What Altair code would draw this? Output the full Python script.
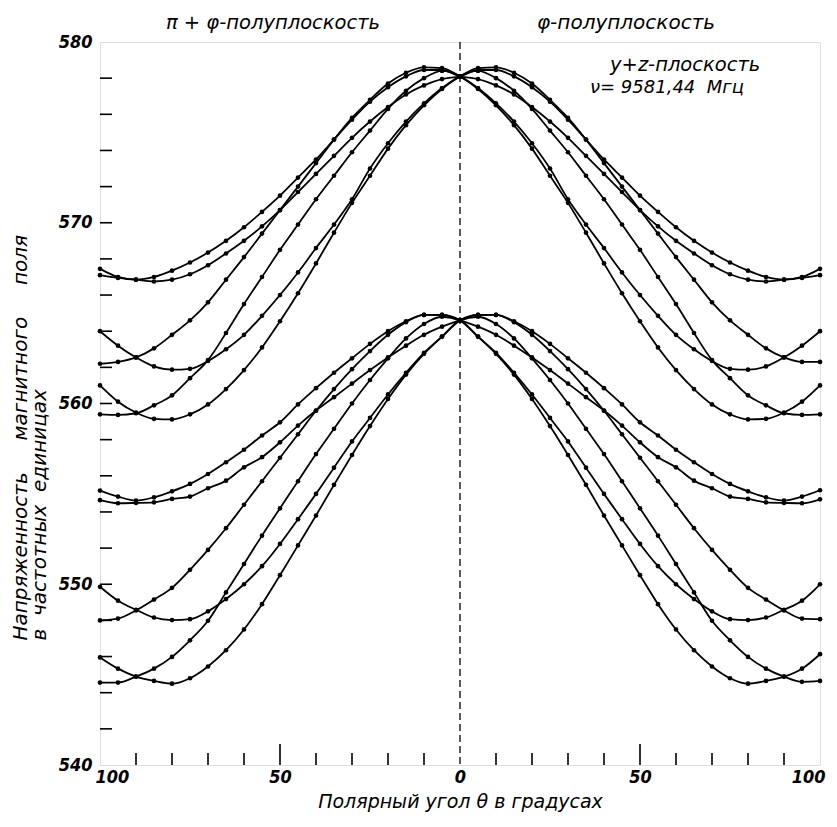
import altair as alt
import pandas as pd

# Polar angle (deg): negative side = "π+φ" half-plane, positive side = "φ" half-plane
theta = list(range(-100, 105, 5))

# Upper family (six curves)
U1 = [567.45, 567.0, 566.85, 567.0, 567.35, 567.8, 568.35, 569.0, 569.75, 570.6, 571.5, 572.5, 573.5, 574.6, 575.7, 576.7, 577.5, 578.1, 578.45, 578.45, 578.1,
      577.95, 577.6, 577.1, 576.4, 575.6, 574.7, 573.7, 572.7, 571.7, 570.7, 569.8, 569.0, 568.3, 567.65, 567.15, 566.85, 566.75, 566.85, 566.95, 567.1]
U2 = [567.1, 566.95, 566.85, 566.75, 566.85, 567.15, 567.65, 568.3, 569.0, 569.8, 570.7, 571.7, 572.7, 573.7, 574.7, 575.6, 576.4, 577.1, 577.6, 577.95, 578.1,
      578.45, 578.45, 578.1, 577.5, 576.7, 575.7, 574.6, 573.5, 572.5, 571.5, 570.6, 569.75, 569.0, 568.35, 567.8, 567.35, 567.0, 566.85, 567.0, 567.45]
U3 = [564.0, 563.2, 562.55, 562.05, 561.87, 561.92, 562.35, 563.0, 563.8, 564.85, 566.0, 567.25, 568.6, 569.9, 571.3, 573.0, 574.4, 575.6, 576.6, 577.45, 578.1,
      578.55, 578.6, 578.3, 577.7, 576.8, 575.8, 574.6, 573.3, 572.0, 570.7, 569.4, 568.1, 566.85, 565.6, 564.6, 563.8, 563.05, 562.55, 562.3, 562.3]
U4 = [562.2, 562.3, 562.55, 563.05, 563.8, 564.6, 565.6, 566.85, 568.1, 569.4, 570.7, 572.0, 573.3, 574.6, 575.8, 576.8, 577.7, 578.3, 578.6, 578.55, 578.1,
      577.45, 576.6, 575.6, 574.4, 573.0, 571.3, 569.9, 568.6, 567.25, 566.0, 564.85, 563.8, 563.0, 562.35, 561.92, 561.87, 562.05, 562.55, 563.2, 564.0]
U5 = [561.0, 560.1, 559.5, 559.15, 559.12, 559.4, 559.95, 560.8, 561.85, 563.1, 564.55, 566.1, 567.75, 569.45, 571.1, 572.6, 574.1, 575.4, 576.5, 577.4, 578.1,
      578.4, 578.0, 577.3, 576.3, 575.1, 573.9, 572.6, 571.3, 569.9, 568.5, 567.0, 565.5, 563.9, 562.4, 561.4, 560.45, 559.9, 559.46, 559.37, 559.4]
U6 = [559.4, 559.37, 559.46, 559.9, 560.45, 561.4, 562.4, 563.9, 565.5, 567.0, 568.5, 569.9, 571.3, 572.6, 573.9, 575.1, 576.3, 577.3, 578.0, 578.4, 578.1,
      577.4, 576.5, 575.4, 574.1, 572.6, 571.1, 569.45, 567.75, 566.1, 564.55, 563.1, 561.85, 560.8, 559.95, 559.4, 559.12, 559.15, 559.5, 560.1, 561.0]

# Lower family (six curves)
L1 = [555.18, 554.85, 554.63, 554.81, 555.14, 555.55, 556.1, 556.75, 557.44, 558.23, 558.96, 559.95, 560.85, 561.7, 562.5, 563.3, 564.0, 564.55, 564.9, 564.9, 564.6,
      564.25, 563.8, 563.2, 562.55, 561.85, 561.1, 560.35, 559.61, 558.78, 557.85, 557.03, 556.47, 555.73, 555.31, 554.85, 554.72, 554.53, 554.5, 554.48, 554.7]
L2 = [554.65, 554.48, 554.5, 554.53, 554.72, 554.85, 555.31, 555.73, 556.47, 557.03, 557.85, 558.78, 559.61, 560.35, 561.1, 561.85, 562.55, 563.2, 563.8, 564.25, 564.6,
      564.9, 564.9, 564.55, 564.0, 563.3, 562.5, 561.7, 560.85, 559.95, 558.96, 558.23, 557.44, 556.75, 556.1, 555.55, 555.14, 554.81, 554.63, 554.85, 555.2]
L3 = [549.86, 549.09, 548.59, 548.16, 548.02, 548.07, 548.5, 549.18, 550.0, 551.0, 552.23, 553.6, 555.0, 556.45, 557.9, 559.2, 560.5, 561.7, 562.8, 563.7, 564.6,
      564.9, 564.9, 564.5, 563.8, 562.9, 561.9, 560.8, 559.6, 558.3, 557.0, 555.7, 554.4, 553.1, 551.9, 550.8, 549.8, 549.15, 548.55, 548.1, 548.07]
L4 = [548.0, 548.1, 548.55, 549.15, 549.8, 550.8, 551.9, 553.1, 554.4, 555.7, 557.0, 558.3, 559.6, 560.8, 561.9, 562.9, 563.8, 564.5, 564.9, 564.9, 564.6,
      563.7, 562.8, 561.7, 560.5, 559.2, 557.9, 556.45, 555.0, 553.6, 552.23, 551.0, 550.0, 549.18, 548.5, 548.07, 548.02, 548.16, 548.59, 549.09, 550.0]
L5 = [545.95, 545.33, 544.89, 544.65, 544.5, 544.8, 545.45, 546.35, 547.5, 548.9, 550.5, 552.15, 553.8, 555.5, 557.15, 558.75, 560.25, 561.6, 562.75, 563.7, 564.6,
      564.8, 564.4, 563.6, 562.5, 561.3, 560.0, 558.6, 557.2, 555.7, 554.2, 552.69, 551.12, 549.55, 547.98, 546.9, 545.98, 545.33, 544.89, 544.6, 544.65]
L6 = [544.56, 544.56, 544.89, 545.33, 545.98, 546.9, 547.98, 549.55, 551.12, 552.69, 554.2, 555.7, 557.2, 558.6, 560.0, 561.3, 562.5, 563.6, 564.4, 564.8, 564.6,
      563.7, 562.75, 561.6, 560.25, 558.75, 557.15, 555.5, 553.8, 552.15, 550.5, 548.9, 547.5, 546.35, 545.45, 544.8, 544.5, 544.65, 544.89, 545.33, 546.13]

curves = {"U1": U1, "U2": U2, "U3": U3, "U4": U4, "U5": U5, "U6": U6,
          "L1": L1, "L2": L2, "L3": L3, "L4": L4, "L5": L5, "L6": L6}

rows = []
for name, vals in curves.items():
    for t, v in zip(theta, vals):
        rows.append({"curve": name, "theta": t, "H": v})
df = pd.DataFrame(rows)

x_ticks_minor = [-90, -80, -70, -60, -40, -30, -20, -10, 10, 20, 30, 40, 60, 70, 80, 90]
x_ticks_major = [-50, 50]
y_ticks = list(range(542, 580, 2))
x_labels = [-100, -50, 0, 50, 100]
y_labels = [540, 550, 560, 570, 580]

W, H = 720, 723
NUM_FONT = "'Liberation Sans Narrow', 'DejaVu Sans Condensed', 'DejaVu Sans'"
TXT_FONT = "'DejaVu Sans', 'Liberation Sans'"
SP = "\u00a0"

xs = alt.Scale(domain=[-100, 100], nice=False, zero=False)
ys = alt.Scale(domain=[540, 580], nice=False, zero=False)

xenc = alt.X("theta:Q", scale=xs,
             axis=alt.Axis(values=x_labels, labelExpr="abs(datum.value)", ticks=False, domain=False,
                           grid=False, labelFont=NUM_FONT, labelFontSize=18, labelFontStyle="italic",
                           labelFontWeight="bold", labelColor="black", labelPadding=3,
                           labelFlush=True, labelFlushOffset=5,
                           title="Полярный угол θ в градусах", titleFont=TXT_FONT, titleFontSize=19,
                           titleFontStyle="italic", titleFontWeight="normal", titleColor="black",
                           titlePadding=6))
yenc = alt.Y("H:Q", scale=ys,
             axis=alt.Axis(values=y_labels, ticks=False, domain=False, grid=False,
                           labelFont=NUM_FONT, labelFontSize=18, labelFontStyle="italic",
                           labelFontWeight="bold", labelColor="black", labelPadding=8,
                           title=["Напряженность" + SP * 5 + "магнитного" + SP * 5 + "поля",
                                  "в" + SP * 2 + "частотных" + SP * 2 + "единицах"],
                           titleFont=TXT_FONT, titleFontSize=20, titleFontStyle="italic",
                           titleFontWeight="normal", titleColor="black", titleAngle=270,
                           titleAlign="left", titleBaseline="top", titleX=-90, titleY=598,
                           titleLineHeight=19))

base = alt.Chart(df)
lines = base.mark_line(interpolate="monotone", color="black", strokeWidth=1.8).encode(
    x=xenc, y=yenc, detail="curve:N")
pts = base.mark_circle(size=22, color="black", opacity=1).encode(x="theta:Q", y="H:Q")

zero_line = alt.Chart(pd.DataFrame({"theta": [0]})).mark_rule(
    color="black", strokeWidth=1.3, strokeDash=[7, 4]).encode(x="theta:Q")

ytick = alt.Chart(pd.DataFrame({"H": y_ticks})).mark_rule(color="black", strokeWidth=1.6).encode(
    y="H:Q", x=alt.value(0), x2=alt.value(12))
xtick_minor = alt.Chart(pd.DataFrame({"theta": x_ticks_minor})).mark_rule(color="black", strokeWidth=1.6).encode(
    x="theta:Q", y=alt.value(H), y2=alt.value(H - 12))
xtick_major = alt.Chart(pd.DataFrame({"theta": x_ticks_major})).mark_rule(color="black", strokeWidth=1.6).encode(
    x="theta:Q", y=alt.value(H), y2=alt.value(H - 21))

def label(txt, x, y, size=17, align="center"):
    return alt.Chart(pd.DataFrame({"t": [txt]})).mark_text(
        font=TXT_FONT, fontSize=size, fontStyle="italic", color="black", align=align,
        baseline="middle").encode(text="t:N", x=alt.value(x), y=alt.value(y))

texts = (label("π + φ-полуплоскость", 173, -19, size=19.5) + label("φ-полуплоскость", 526, -19, size=20)
         + label("y+z-плоскость", 510, 23, size=19.5, align="left")
         + label("ν= 9581,44" + SP * 2 + "Мгц", 490, 46, size=18, align="left"))

chart = alt.layer(lines, pts, zero_line, ytick, xtick_minor, xtick_major, texts).properties(
    width=W, height=H, autosize=alt.AutoSizeParams(type="none"),
    padding={"left": 92, "top": 34, "right": 9, "bottom": 60}
).configure_view(stroke="black", strokeWidth=2).configure(background="white")

chart.save("out.html", embed_options={"renderer": "svg", "actions": False})
